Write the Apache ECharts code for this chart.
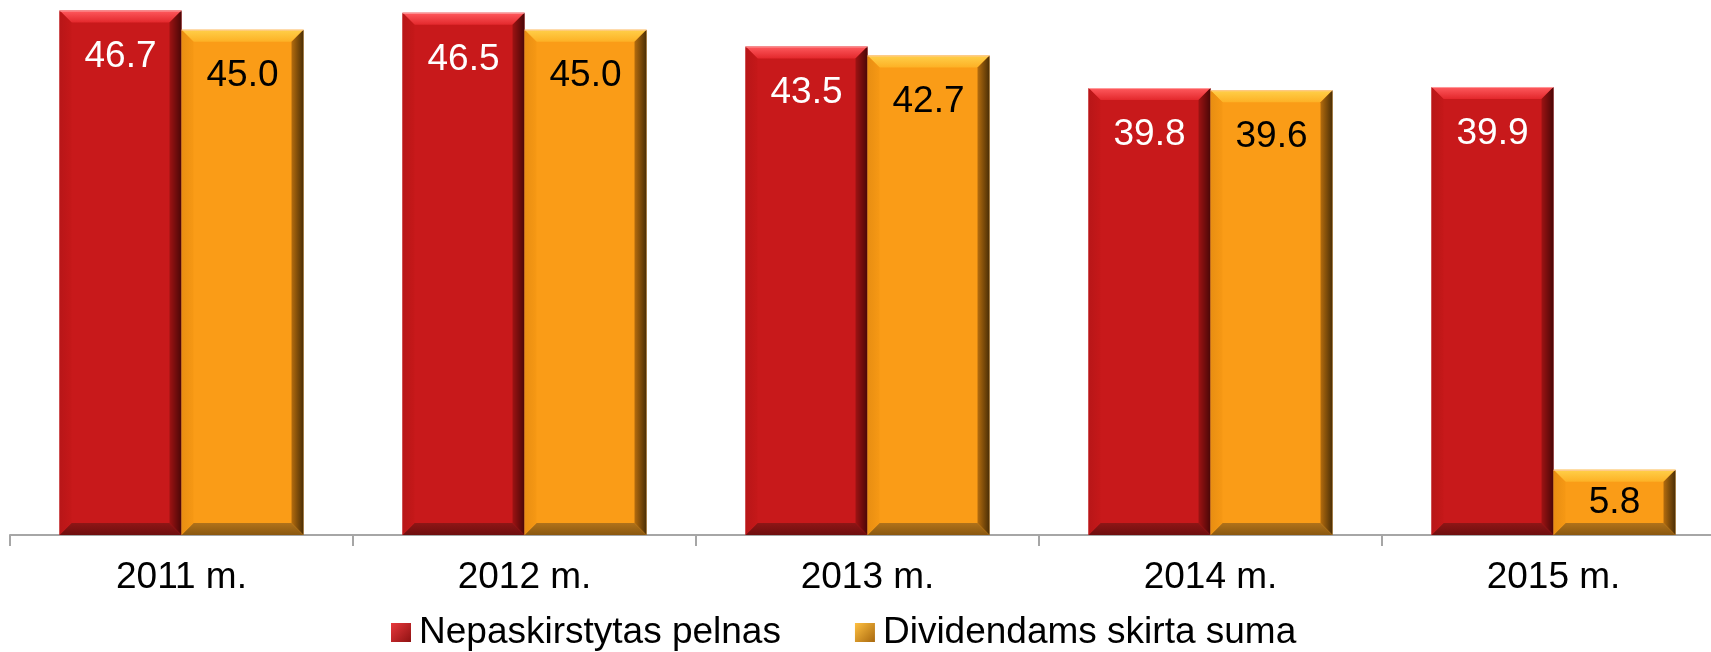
<!DOCTYPE html>
<html>
<head>
<meta charset="utf-8">
<script src="https://cdn.jsdelivr.net/npm/echarts@6/dist/echarts.min.js"></script>
<style>
html,body{margin:0;padding:0;background:#fff;}
#chart{width:1711px;height:652px;}
</style>
</head>
<body>
<div id="chart"></div>
<script>
// ---- data ----
const categories = ['2011 m.', '2012 m.', '2013 m.', '2014 m.', '2015 m.'];
const seriesNames = ['Nepaskirstytas pelnas', 'Dividendams skirta suma'];
const undistributedProfit = [46.7, 46.5, 43.5, 39.8, 39.9];
const dividends = [45.0, 45.0, 42.7, 39.6, 5.8];

// ---- styles ----
const FONT = "'Liberation Sans', Arial, sans-serif";
const BAR_W = 122;
const BEVEL = 12;
const palette = {
  red: {main: '#C8191B', top: ['#FF5A5E', '#E3282C'], right: ['#9E1313', '#4A0707'], bottom: ['#8E1616', '#6E0E0E'], left: ['#B81618', '#C51819'], text: '#FFFFFF'},
  orange: {main: '#FA9C17', top: ['#FFD04A', '#FDB125'], right: ['#B46C0E', '#4A2E06'], bottom: ['#B0721A', '#8A5810'], left: ['#E88E12', '#F69814'], text: '#000000'}
};

const chart = echarts.init(document.getElementById('chart'), null, {renderer: 'canvas'});

function lg(x, y, x2, y2, c) {
  return new echarts.graphic.LinearGradient(x, y, x2, y2, [{offset: 0, color: c[0]}, {offset: 1, color: c[1]}]);
}

function bevelRenderer(offsetSign, pal) {
  return function (params, api) {
    const i = api.value(0), v = api.value(1);
    const top = api.coord([i, v]);
    const base = api.coord([i, 0]);
    const x0 = offsetSign < 0 ? top[0] - BAR_W : top[0];
    const x1 = x0 + BAR_W;
    const y0 = top[1], y1 = base[1];
    const b = Math.min(BEVEL, (y1 - y0) / 3);
    return {
      type: 'group',
      silent: true,
      children: [
        {type: 'polygon', shape: {points: [[x0, y0], [x1, y0], [x1 - b, y0 + b], [x0 + b, y0 + b]]}, style: {fill: lg(0, 0, 0, 1, pal.top)}},
        {type: 'polygon', shape: {points: [[x1, y0], [x1, y1], [x1 - b, y1 - b], [x1 - b, y0 + b]]}, style: {fill: lg(0, 0, 1, 0, pal.right)}},
        {type: 'polygon', shape: {points: [[x0, y1], [x1, y1], [x1 - b, y1 - b], [x0 + b, y1 - b]]}, style: {fill: lg(0, 0, 0, 1, pal.bottom)}},
        {type: 'polygon', shape: {points: [[x0, y0], [x0, y1], [x0 + b, y1 - b], [x0 + b, y0 + b]]}, style: {fill: lg(0, 0, 1, 0, pal.left)}},
        {type: 'line', shape: {x1: x0, y1: y0 + 0.5, x2: x1, y2: y0 + 0.5}, style: {stroke: 'rgba(255,200,200,0.6)', lineWidth: 1}}
      ]
    };
  };
}

function barData(values) {
  return values.map(v => v < 10 ? {value: v, label: {position: 'inside'}} : v);
}

function barSeries(name, values, pal) {
  return {
    name: name,
    type: 'bar',
    data: barData(values),
    barWidth: BAR_W,
    barGap: '0%',
    itemStyle: {color: pal.main},
    label: {
      show: true,
      position: 'insideTop',
      distance: 28,
      color: pal.text,
      fontFamily: FONT,
      fontSize: 37,
      lineHeight: 37,
      formatter: p => Number(p.value).toFixed(1)
    },
    emphasis: {disabled: true},
    z: 2
  };
}

function bevelSeries(values, sign, pal) {
  return {
    type: 'custom',
    name: 'bevel',
    renderItem: bevelRenderer(sign, pal),
    data: values.map((v, i) => [i, v]),
    encode: {x: 0, y: 1},
    silent: true,
    z: 3,
    tooltip: {show: false}
  };
}

chart.setOption({
  animation: false,
  backgroundColor: '#ffffff',
  grid: {left: 10, top: 0, right: -14, height: 535, outerBoundsMode: 'none', containLabel: false},
  xAxis: {
    type: 'category',
    data: categories,
    axisLine: {show: true, lineStyle: {color: '#A6A6A6', width: 2}},
    axisTick: {show: true, length: 11, lineStyle: {color: '#A6A6A6', width: 2}},
    axisLabel: {color: '#000', fontFamily: FONT, fontSize: 37, lineHeight: 37, margin: 24, interval: 0}
  },
  yAxis: {type: 'value', min: 0, max: 47.64, show: false, splitLine: {show: false}},
  legend: {
    data: [
      {name: seriesNames[0], itemStyle: {color: lg(0, 0, 1, 1, ['#E8383C', '#8E1212'])}},
      {name: seriesNames[1], itemStyle: {color: lg(0, 0, 1, 1, ['#FFC040', '#A8680E'])}}
    ],
    left: 391,
    top: 614,
    padding: 0,
    icon: 'rect',
    itemWidth: 20,
    itemHeight: 19,
    itemGap: 74,
    textStyle: {color: '#000', fontFamily: FONT, fontSize: 37, lineHeight: 37, padding: [0, 0, 0, 3]},
    selectedMode: false
  },
  series: [
    barSeries(seriesNames[0], undistributedProfit, palette.red),
    barSeries(seriesNames[1], dividends, palette.orange),
    bevelSeries(undistributedProfit, -1, palette.red),
    bevelSeries(dividends, 1, palette.orange)
  ]
});
</script>
</body>
</html>
